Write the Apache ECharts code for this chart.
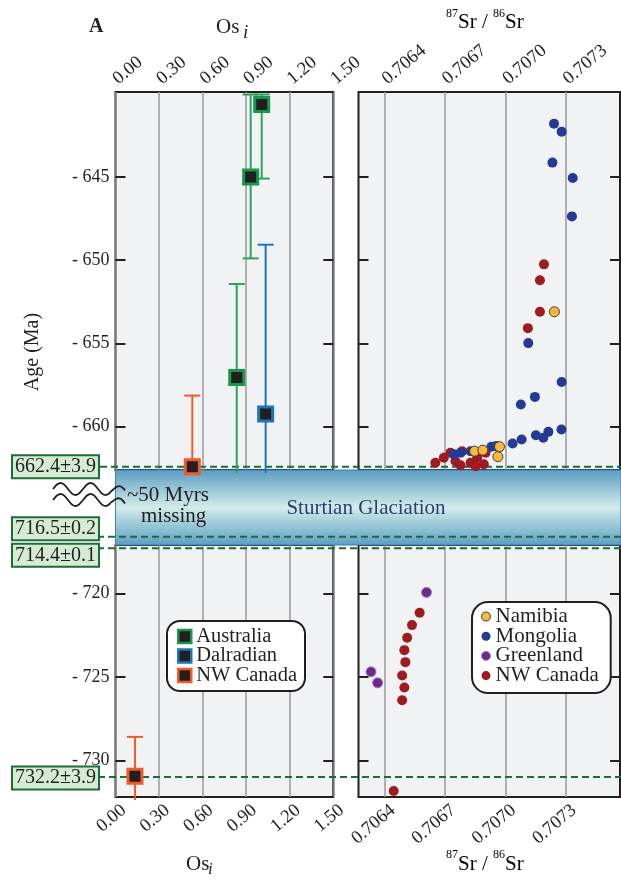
<!DOCTYPE html>
<html><head><meta charset="utf-8">
<script src="https://cdn.jsdelivr.net/npm/echarts@6/dist/echarts.min.js"></script>
<style>html,body{margin:0;padding:0;background:#fff}#c{width:621px;height:881px}</style>
</head><body><div id="c"></div>
<script>
// ================= DATA =================
// Axis ticks
const srTicks = [0.7064, 0.7067, 0.7070, 0.7073];
const upperAgeTicks = [-645, -650, -655, -660];
const lowerAgeTicks = [-720, -725, -730];

// Left panel: Os_i vs age (Ma), with error-bar ends (null = runs off the panel)
const australiaOs = [1.007, 0.931, 0.835];
const australiaAge = [-640.65, -645.0, -657.04];
const australiaErrLow = [-645.10, -649.89, null];
const australiaErrHigh = [-640.05, -640.05, -651.43];

const dalradianOs = [1.034];
const dalradianAge = [-659.23];
const dalradianErrLow = [null];
const dalradianErrHigh = [-649.07];

const nwCanadaOsUpper = [0.529];
const nwCanadaAgeUpper = [-662.4];
const nwCanadaErrLowUpper = [null];
const nwCanadaErrHighUpper = [-658.13];

const nwCanadaOsLower = [0.134];
const nwCanadaAgeLower = [-730.96];
const nwCanadaErrLowLower = [null];
const nwCanadaErrHighLower = [-728.6];

// Right panel: 87Sr/86Sr vs age (Ma)
const namibiaSr = [0.706847, 0.706888, 0.706971, 0.706963, 0.707244];
const namibiaAge = [-661.47, -661.41, -661.20, -661.80, -653.10];

const mongoliaSr = [0.707242, 0.707280, 0.707234, 0.707335, 0.707331, 0.707114, 0.707280, 0.707147, 0.707077, 0.707279, 0.707214, 0.707189, 0.707152, 0.707081, 0.707036, 0.706931, 0.706951, 0.706744, 0.706777, 0.706827];
const mongoliaAge = [-641.80, -642.28, -644.14, -645.06, -647.37, -654.98, -657.31, -658.21, -658.67, -660.17, -660.31, -660.66, -660.51, -660.77, -661.01, -661.20, -661.17, -661.66, -661.56, -661.47];

const greenlandSr = [0.706608, 0.706332, 0.706365];
const greenlandAge = [-719.94, -724.70, -725.36];

const nwCanadaSrUpper = [0.707192, 0.707172, 0.707172, 0.707112, 0.706652, 0.706694, 0.706727, 0.706752, 0.706785, 0.706777, 0.706827, 0.706860, 0.706852, 0.706893, 0.706902, 0.706960];
const nwCanadaSrAgeUpper = [-650.25, -651.20, -653.10, -654.08, -662.16, -661.86, -661.56, -662.07, -661.47, -662.31, -662.16, -661.86, -662.37, -662.26, -661.56, -661.17];
const nwCanadaSrLower = [0.706574, 0.706536, 0.706512, 0.706498, 0.706503, 0.706487, 0.706498, 0.706487, 0.706445];
const nwCanadaSrAgeLower = [-721.16, -721.90, -722.66, -723.40, -724.12, -724.92, -725.64, -726.40, -731.84];

// Age markers (dashed lines) and their labels
const markerLabels = ['662.4\u00b13.9', '716.5\u00b10.2', '714.4\u00b10.1', '732.2\u00b13.9'];
const markerAges = [-662.4, -716.6, -717.3, -731.0];
const markerOnUpper = [true, false, false, false];

// ================= CHART =================
const FONT = "'Liberation Serif','Times New Roman',serif";
const INK = '#231f20';
const L = { lx: 115.5, lw: 217.8, rx: 358.5, rw: 261.5, top: 92, upperH: 378, lowerTop: 545, lowerH: 252 };
const UP_MIN = -662.6, UP_MAX = -639.9, LO_MIN = -732.2, LO_MAX = -717.1;
const SR_MIN = 0.70627, SR_MAX = 0.70757;
const C = { green: '#17974a', greenBar: '#2aa557', blue: '#1b75bb', orange: '#f15a29',
  namibia: '#fbb93a', mongolia: '#253a94', greenland: '#6b2a8c', nwc: '#9e1b20' };

const zip = (a, b) => a.map((v, i) => [v, b[i]]);

function gridOpt(left, top, width, height) {
  return { left, top, width, height, show: true, backgroundColor: '#f1f2f4', borderColor: INK, borderWidth: 2 };
}
const labelFont = { fontFamily: FONT, fontSize: 18.5, color: INK };
function xLabel(position, extra) {
  const top = position === 'top';
  const base = top ? { rotate: -40, margin: 11 } : { rotate: 40, margin: 1, verticalAlign: 'top', lineHeight: 26 };
  return Object.assign(base, { hideOverlap: false }, labelFont, extra);
}
function osAxis(gridIndex, position) {
  return { type: 'value', gridIndex, position, min: 0, max: 1.5, interval: 0.3,
    axisLine: { show: false, onZero: false }, axisTick: { show: false },
    splitLine: { show: true, lineStyle: { color: '#9a9a9a', width: 1.5 } },
    axisLabel: xLabel(position, { formatter: v => v.toFixed(2) }) };
}
function srAxis(gridIndex, position) {
  return { type: 'value', gridIndex, position, min: SR_MIN, max: SR_MAX,
    axisLine: { show: false, onZero: false }, axisTick: { show: false, customValues: srTicks },
    splitLine: { show: true, lineStyle: { color: '#9a9a9a', width: 1.5 } },
    axisLabel: xLabel(position, { customValues: srTicks, formatter: v => v.toFixed(4) }) };
}
function ageAxis(gridIndex, position, min, max, ticks, showLabels) {
  return { type: 'value', gridIndex, position, min, max,
    axisLine: { show: false, onZero: false },
    axisTick: { show: true, inside: true, length: 10, customValues: ticks, lineStyle: { color: INK, width: 2 } },
    axisLabel: { show: showLabels, customValues: ticks, margin: 6, formatter: v => '- ' + Math.abs(v),
      fontFamily: FONT, fontSize: 18, color: INK },
    splitLine: { show: false } };
}

function errBars(name, xi, yi, xs, ys, lows, highs, color) {
  return { name, type: 'custom', xAxisIndex: xi, yAxisIndex: yi, z: 3, silent: true,
    data: zip(xs, ys),
    renderItem: function (params, api) {
      const i = params.dataIndex, cs = params.coordSys;
      const x = api.coord([api.value(0), api.value(1)])[0];
      const yB = lows[i] == null ? cs.y + cs.height + 3 : api.coord([api.value(0), lows[i]])[1];
      const yT = highs[i] == null ? cs.y : api.coord([api.value(0), highs[i]])[1];
      const st = { stroke: color, lineWidth: 2 };
      const ch = [{ type: 'line', shape: { x1: x, y1: yT, x2: x, y2: yB }, style: st }];
      if (lows[i] != null) ch.push({ type: 'line', shape: { x1: x - 8, y1: yB, x2: x + 8, y2: yB }, style: st });
      if (highs[i] != null) ch.push({ type: 'line', shape: { x1: x - 8, y1: yT, x2: x + 8, y2: yT }, style: st });
      return { type: 'group', children: ch };
    } };
}
function squares(name, xi, yi, xs, ys, border) {
  return { name, type: 'scatter', xAxisIndex: xi, yAxisIndex: yi, z: 4, data: zip(xs, ys),
    symbol: 'rect', symbolSize: 14, itemStyle: { color: INK, borderColor: border, borderWidth: 3, opacity: 1 } };
}
function dots(name, xi, yi, xs, ys, color, border, bw) {
  return { name, type: 'scatter', xAxisIndex: xi, yAxisIndex: yi, z: 4, data: zip(xs, ys),
    symbol: 'circle', symbolSize: 10, itemStyle: { color, borderColor: border || color, borderWidth: bw || 0, opacity: 1 } };
}

const chart = echarts.init(document.getElementById('c'), null, { renderer: 'canvas' });
const option = {
  animation: false,
  backgroundColor: '#ffffff',
  grid: [
    gridOpt(L.lx, L.top, L.lw, L.upperH),
    gridOpt(L.lx, L.lowerTop, L.lw, L.lowerH),
    gridOpt(L.rx, L.top, L.rw, L.upperH),
    gridOpt(L.rx, L.lowerTop, L.rw, L.lowerH)
  ],
  xAxis: [osAxis(0, 'top'), osAxis(1, 'bottom'), srAxis(2, 'top'), srAxis(3, 'bottom')],
  yAxis: [
    ageAxis(0, 'left', UP_MIN, UP_MAX, upperAgeTicks, true),
    ageAxis(0, 'right', UP_MIN, UP_MAX, upperAgeTicks, false),
    ageAxis(1, 'left', LO_MIN, LO_MAX, lowerAgeTicks, true),
    ageAxis(1, 'right', LO_MIN, LO_MAX, lowerAgeTicks, false),
    ageAxis(2, 'left', UP_MIN, UP_MAX, upperAgeTicks, false),
    ageAxis(2, 'right', UP_MIN, UP_MAX, upperAgeTicks, false),
    ageAxis(3, 'left', LO_MIN, LO_MAX, lowerAgeTicks, false),
    ageAxis(3, 'right', LO_MIN, LO_MAX, lowerAgeTicks, false)
  ],
  legend: [
    { data: [
        { name: 'Australia', icon: 'rect', itemStyle: { color: INK, borderColor: C.green, borderWidth: 2.5 } },
        { name: 'Dalradian', icon: 'rect', itemStyle: { color: INK, borderColor: C.blue, borderWidth: 2.5 } },
        { name: 'NW Canada (Os)', icon: 'rect', itemStyle: { color: INK, borderColor: C.orange, borderWidth: 2.5 } }
      ],
      formatter: n => n.replace(' (Os)', ''),
      orient: 'vertical', left: 167, top: 621, padding: [5, 8, 5, 10], itemGap: -1.5,
      itemWidth: 13, itemHeight: 13, backgroundColor: '#ffffff', borderColor: INK, borderWidth: 2, borderRadius: 13,
      textStyle: { fontFamily: FONT, fontSize: 20.5, color: INK, lineHeight: 19 }, selectedMode: false },
    { data: [
        { name: 'Namibia', icon: 'circle', itemStyle: { color: C.namibia, borderColor: '#3a3a3a', borderWidth: 1 } },
        { name: 'Mongolia', icon: 'circle', itemStyle: { color: C.mongolia, borderWidth: 0 } },
        { name: 'Greenland', icon: 'circle', itemStyle: { color: C.greenland, borderColor: '#a679c0', borderWidth: 1 } },
        { name: 'NW Canada', icon: 'circle', itemStyle: { color: C.nwc, borderWidth: 0 } }
      ],
      orient: 'vertical', left: 472, top: 602, padding: [4, 12, 7, 9], itemGap: -1.3,
      itemWidth: 9, itemHeight: 9, backgroundColor: '#ffffff', borderColor: INK, borderWidth: 2, borderRadius: 16,
      textStyle: { fontFamily: FONT, fontSize: 21, color: INK, lineHeight: 20 }, selectedMode: false }
  ],
  series: [
    errBars('eb1', 0, 0, australiaOs, australiaAge, australiaErrLow, australiaErrHigh, C.greenBar),
    errBars('eb2', 0, 0, dalradianOs, dalradianAge, dalradianErrLow, dalradianErrHigh, C.blue),
    errBars('eb3', 0, 0, nwCanadaOsUpper, nwCanadaAgeUpper, nwCanadaErrLowUpper, nwCanadaErrHighUpper, C.orange),
    errBars('eb4', 1, 2, nwCanadaOsLower, nwCanadaAgeLower, nwCanadaErrLowLower, nwCanadaErrHighLower, C.orange),
    squares('Australia', 0, 0, australiaOs, australiaAge, C.green),
    squares('Dalradian', 0, 0, dalradianOs, dalradianAge, C.blue),
    squares('NW Canada (Os)', 0, 0, nwCanadaOsUpper, nwCanadaAgeUpper, C.orange),
    squares('NW Canada (Os)', 1, 2, nwCanadaOsLower, nwCanadaAgeLower, C.orange),
    dots('NW Canada', 2, 4, nwCanadaSrUpper, nwCanadaSrAgeUpper, C.nwc),
    dots('NW Canada', 3, 6, nwCanadaSrLower, nwCanadaSrAgeLower, C.nwc),
    dots('Greenland', 3, 6, greenlandSr, greenlandAge, C.greenland, '#a679c0', 1),
    dots('Mongolia', 2, 4, mongoliaSr, mongoliaAge, C.mongolia),
    dots('Namibia', 2, 4, namibiaSr, namibiaAge, C.namibia, '#3a3a3a', 1)
  ]
};
chart.setOption(option);

// ---- decorations tied to the age axes ----
const g = [];
const bandTop = L.top + L.upperH, bandBot = L.lowerTop;
g.push({ type: 'rect', z: 1, shape: { x: L.lx, y: bandTop, width: 621 - L.lx, height: bandBot - bandTop },
  style: { fill: new echarts.graphic.LinearGradient(0, 0, 0, 1, [
      { offset: 0, color: '#5a9dc3' }, { offset: 0.5, color: '#d2ece9' }, { offset: 1, color: '#5a9dc3' }]),
    stroke: '#3b80b6', lineWidth: 1 } });
const boxOffset = [0, -8, 7, 1];
const lineStartX = [100, 97, 97, 98];
markerAges.forEach((a, i) => {
  const y = chart.convertToPixel({ yAxisIndex: markerOnUpper[i] ? 0 : 2 }, a);
  g.push({ type: 'line', z: 1.5, shape: { x1: lineStartX[i], y1: y, x2: 621, y2: y },
    style: { stroke: '#1c6b38', lineWidth: 2, lineDash: [7, 4] } });
  g.push({ type: 'text', z: 5, x: 13, y: y + boxOffset[i],
    style: { text: markerLabels[i], font: '20px ' + FONT, fill: INK, verticalAlign: 'middle', align: 'left',
      backgroundColor: '#d5ecd3', borderColor: '#1c6b38', borderWidth: 2, padding: [1, 2, 0, 2] } });
});
// wavy "break" marks (decorative)
function wave(x0, y0, drop) {
  const pts = [];
  for (let k = 0; k <= 36; k++) {
    const x = x0 + k * 2;
    pts.push([x, y0 - 6 * Math.sin(k * 2 * Math.PI / 15) + (k > 29 ? (k - 29) * drop : 0)]);
  }
  return { type: 'polyline', z: 5, shape: { points: pts, smooth: 0.3 }, style: { fill: null, stroke: INK, lineWidth: 1.8 } };
}
g.push(wave(53, 489, 0.7));
g.push(wave(53, 500, 1.0));
g.push({ type: 'text', z: 5, x: 127, y: 495, style: { text: '~50 Myrs', font: '21px ' + FONT, fill: INK, verticalAlign: 'middle' } });
g.push({ type: 'text', z: 5, x: 141, y: 516, style: { text: 'missing', font: '21px ' + FONT, fill: INK, verticalAlign: 'middle' } });
g.push({ type: 'text', z: 5, x: 366, y: 508, style: { text: 'Sturtian Glaciation', font: '21px ' + FONT, fill: '#2b3f72', align: 'center', verticalAlign: 'middle' } });
// titles
g.push({ type: 'text', z: 5, x: 89, y: 27, style: { text: 'A', font: 'bold 20px ' + FONT, fill: INK, verticalAlign: 'middle' } });
g.push({ type: 'text', z: 5, x: 216, y: 27, style: { text: 'Os', font: '21px ' + FONT, fill: INK, verticalAlign: 'middle' } });
g.push({ type: 'text', z: 5, x: 243, y: 33, style: { text: 'i', font: 'italic 19px ' + FONT, fill: INK, verticalAlign: 'middle' } });
g.push({ type: 'text', z: 5, x: 186, y: 864, style: { text: 'Os', font: '21px ' + FONT, fill: INK, verticalAlign: 'middle' } });
g.push({ type: 'text', z: 5, x: 208, y: 870, style: { text: 'i', font: 'italic 17px ' + FONT, fill: INK, verticalAlign: 'middle' } });
const srRich = { a: { fontFamily: FONT, fontSize: 12, lineHeight: 12, verticalAlign: 'top', color: INK },
  b: { fontFamily: FONT, fontSize: 21, lineHeight: 30, color: INK } };
g.push({ type: 'text', z: 5, x: 446, y: 7.5, style: { text: '{a|87}{b|Sr / }{a|86}{b|Sr}', rich: srRich, verticalAlign: 'top' } });
g.push({ type: 'text', z: 5, x: 446, y: 849, style: { text: '{a|87}{b|Sr / }{a|86}{b|Sr}', rich: srRich, verticalAlign: 'top' } });
g.push({ type: 'text', z: 5, x: 33, y: 352, rotation: Math.PI / 2,
  style: { text: 'Age (Ma)', font: '20px ' + FONT, fill: INK, align: 'center', verticalAlign: 'middle' } });
chart.setOption({ graphic: { elements: g } });
</script></body></html>
